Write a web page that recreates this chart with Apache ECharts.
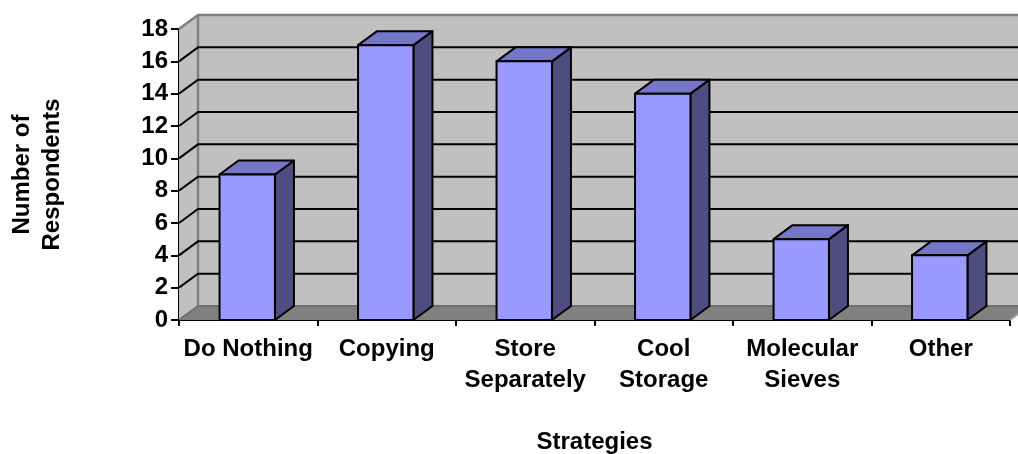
<!DOCTYPE html>
<html>
<head>
<meta charset="utf-8">
<script src="https://cdn.jsdelivr.net/npm/echarts@6/dist/echarts.min.js"></script>
<style>html,body{margin:0;padding:0;background:#fff}#chart{width:1018px;height:454px}</style>
</head>
<body>
<div id="chart"></div>
<script>
const categories = ['Do Nothing', 'Copying', 'Store\nSeparately', 'Cool\nStorage', 'Molecular\nSieves', 'Other'];
const respondents = [9, 17, 16, 14, 5, 4];
const yTicks = [0, 2, 4, 6, 8, 10, 12, 14, 16, 18];
const xTitle = 'Strategies';
const yTitle = 'Number of\nRespondents';

const DX = 19, DY = -14;
const FONT = '"Liberation Sans", Arial, sans-serif';
const FS = 24;
const yMin = yTicks[0], yMax = yTicks[yTicks.length - 1], yStep = yTicks[1] - yTicks[0];

const chart = echarts.init(document.getElementById('chart'), null, { renderer: 'canvas' });

function wallsItem(params, api) {
  const cs = params.coordSys;
  const x0 = cs.x, x1 = cs.x + cs.width, yT = cs.y, yB = cs.y + cs.height;
  const wall = { fill: '#C0C0C0' };
  const edge = { stroke: '#808080', lineWidth: 2.5, fill: null };
  return {
    type: 'group',
    children: [
      { type: 'polygon', shape: { points: [[x0, yT], [x0 + DX, yT + DY], [x0 + DX, yB + DY], [x0, yB]] }, style: wall },
      { type: 'rect', shape: { x: x0 + DX, y: yT + DY, width: x1 - x0, height: yB - yT }, style: wall },
      { type: 'polygon', shape: { points: [[x0, yB], [x1, yB], [x1 + DX, yB + DY], [x0 + DX, yB + DY]] }, style: { fill: '#808080' } },
      { type: 'polyline', shape: { points: [[x0, yT], [x0 + DX, yT + DY], [x1 + DX, yT + DY]] }, style: edge },
      { type: 'polyline', shape: { points: [[x0 + DX, yT + DY], [x0 + DX, yB + DY]] }, style: edge },
      { type: 'polyline', shape: { points: [[x0, yB], [x0 + DX, yB + DY], [x1 + DX, yB + DY]] }, style: { stroke: '#6E6E6E', lineWidth: 2, fill: null } },
      { type: 'polyline', shape: { points: [[x1, yB], [x1 + DX, yB + DY]] }, style: { stroke: '#A0A0A0', lineWidth: 2, fill: null } }
    ]
  };
}

function gridItem(params, api) {
  const cs = params.coordSys;
  const x0 = cs.x, x1 = cs.x + cs.width;
  const y = api.coord([0, api.value(1)])[1];
  return {
    type: 'polyline',
    shape: { points: [[x0, y], [x0 + DX, y + DY], [x1 + DX, y + DY]] },
    style: { stroke: '#000', lineWidth: 2, fill: null }
  };
}

function barItem(params, api) {
  const i = api.value(0), v = api.value(1);
  const top = api.coord([i, v]);
  const base = api.coord([i, 0]);
  const w = api.size([1, 0])[0] * 0.4;
  const xl = top[0] - w / 2 - 1, xr = top[0] + w / 2 - 1;
  const yt = top[1], yb = base[1];
  const border = { stroke: '#000', lineWidth: 2, lineJoin: 'round' };
  return {
    type: 'group',
    children: [
      { type: 'polygon', shape: { points: [[xr, yt], [xr + DX, yt + DY], [xr + DX, yb + DY], [xr, yb]] }, style: Object.assign({ fill: '#4D4D80' }, border) },
      { type: 'polygon', shape: { points: [[xl, yt], [xr, yt], [xr + DX, yt + DY], [xl + DX, yt + DY]] }, style: Object.assign({ fill: '#7676C8' }, border) },
      { type: 'rect', shape: { x: xl, y: yt, width: xr - xl, height: yb - yt }, style: Object.assign({ fill: '#9999FF' }, border) }
    ]
  };
}

const option = {
  animation: false,
  backgroundColor: '#fff',
  grid: { left: 179, right: 8, top: 29, bottom: 134, containLabel: false, outerBoundsMode: 'none' },
  xAxis: {
    type: 'category',
    data: categories,
    name: xTitle,
    nameLocation: 'middle',
    nameGap: 110,
    nameTextStyle: { fontFamily: FONT, fontWeight: 'bold', fontSize: FS, color: '#000' },
    axisLine: { show: true, lineStyle: { color: '#000', width: 2 } },
    axisTick: { show: true, length: 6, lineStyle: { color: '#000', width: 2 } },
    axisLabel: { interval: 0, margin: 14, fontFamily: FONT, fontWeight: 'bold', fontSize: FS, lineHeight: 31, color: '#000' },
    splitLine: { show: false }
  },
  yAxis: {
    type: 'value',
    min: yMin, max: yMax, interval: yStep,
    name: yTitle,
    nameLocation: 'middle',
    nameGap: 112,
    nameTextStyle: { fontFamily: FONT, fontWeight: 'bold', fontSize: FS, lineHeight: 30, color: '#000', align: 'center' },
    axisLine: { show: true, lineStyle: { color: '#000', width: 2 } },
    axisTick: { show: true, length: 8, lineStyle: { color: '#000', width: 2 } },
    axisLabel: { margin: 11, fontFamily: FONT, fontWeight: 'bold', fontSize: FS, color: '#000' },
    splitLine: { show: false }
  },
  series: [
    { type: 'custom', name: 'walls', z: 1, silent: true, renderItem: wallsItem, data: [[0, 0]] },
    { type: 'custom', name: 'grid', z: 2, silent: true, renderItem: gridItem,
      data: yTicks.filter(v => v > yMin && v < yMax).map(v => [0, v]) },
    { type: 'custom', name: 'Respondents', z: 3, renderItem: barItem, encode: { x: 0, y: 1 },
      data: respondents.map((v, i) => [i, v]) }
  ]
};
chart.setOption(option);
</script>
</body>
</html>
